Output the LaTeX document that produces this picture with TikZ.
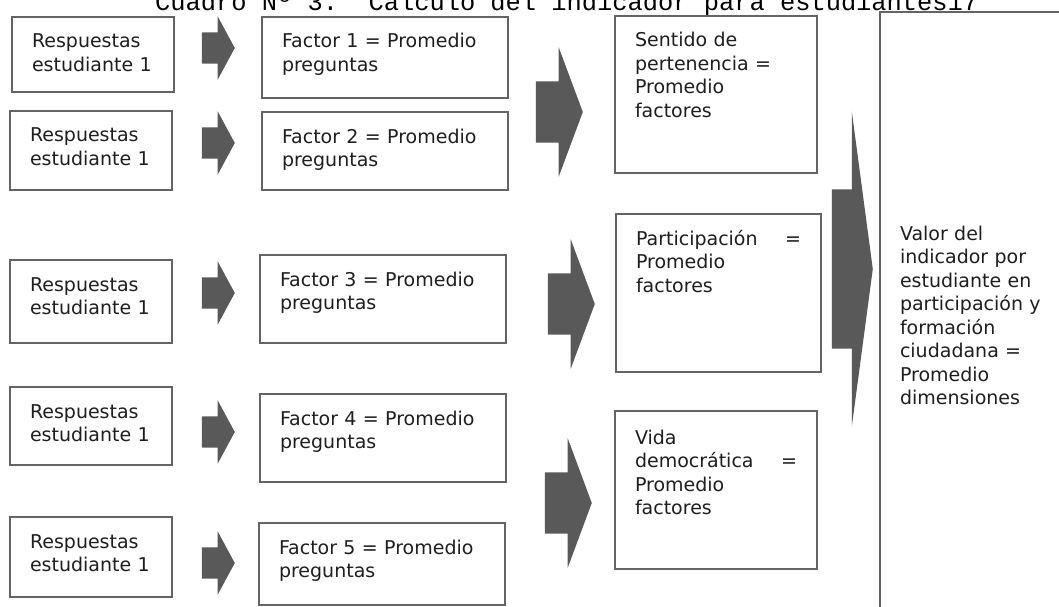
\documentclass[tikz,border=0pt]{standalone}
\usepackage{fontspec}
\setmainfont{DejaVu Sans}
\newfontfamily\titlefont{Liberation Mono}
\usepackage{xcolor}
\usepackage{tikz}
\usetikzlibrary{shapes,arrows,positioning}
\definecolor{boxline}{RGB}{100,100,100}
\definecolor{boxtext}{RGB}{30,30,30}
\definecolor{flecha}{RGB}{89,89,89}

\begin{document}
\begin{tikzpicture}[
    x=1pt, y=-1pt,
    box/.style={rectangle, draw=boxline, line width=1.6pt, text=boxtext, align=left, anchor=north west, inner xsep=20pt, inner ysep=0pt, outer sep=0pt, text height=31pt, font=\fontsize{19}{23.5}\selectfont},
    resp/.style={box, text width=122pt},
    factor/.style={box, text width=206pt},
    dimension/.style={box, text width=162pt},
    arrowbase/.style={single arrow, fill=flecha, draw=none, inner xsep=0pt, anchor=tip},
    smallarrow/.style={arrowbase, inner ysep=15.5pt, single arrow head extend=16pt, minimum width=63pt, minimum height=33pt, single arrow tip angle=123.3},
    midarrow/.style={arrowbase, inner ysep=30.5pt, single arrow head extend=34pt, minimum width=129pt, minimum height=47pt, single arrow tip angle=139.2},
    bigarrow/.style={arrowbase, inner ysep=79.5pt, single arrow head extend=78pt, minimum width=315pt, minimum height=41pt, single arrow tip angle=164.8},
    title/.style={anchor=base west, inner sep=0pt, text=black, font=\titlefont\fontsize{25.4}{26}\selectfont}
]
    \useasboundingbox (0,0) rectangle (1059,607);
    \clip (0,0) rectangle (1059,607);

    % Title
    \node [title] (titulo) at (155,11) {Cuadro Nº 3.\ \ Cálculo del indicador para estudiantes17};

    % Row 1
    \node [resp, text depth=44pt] (resp1) at (12,17) {Respuestas\\estudiante 1};
    \node [smallarrow] (f1) at (235,48) {};
    \node [factor, text depth=50pt] (fact1) at (262,17) {Factor 1 = Promedio\\preguntas};

    % Row 2
    \node [resp, text depth=48pt] (resp2) at (10,111) {Respuestas\\estudiante 1};
    \node [smallarrow] (f2) at (235,143) {};
    \node [factor, text depth=47pt] (fact2) at (262,112) {Factor 2 = Promedio\\preguntas};

    % Row 3
    \node [resp, text depth=52pt] (resp3) at (10,260) {Respuestas\\estudiante 1};
    \node [smallarrow] (f3) at (235,293) {};
    \node [factor, text depth=57pt] (fact3) at (260,255) {Factor 3 = Promedio\\preguntas};

    % Row 4
    \node [resp, text depth=47pt] (resp4) at (10,387) {Respuestas\\estudiante 1};
    \node [smallarrow] (f4) at (235,432) {};
    \node [factor, text depth=57pt] (fact4) at (260,394) {Factor 4 = Promedio\\preguntas};

    % Row 5
    \node [resp, text depth=49pt] (resp5) at (10,517) {Respuestas\\estudiante 1};
    \node [smallarrow] (f5) at (235,563) {};
    \node [factor, text depth=51pt] (fact5) at (259,523) {Factor 5 = Promedio\\preguntas};

    % Dimensions
    \node [midarrow] (d1) at (583,112) {};
    \node [dimension, text depth=126pt] (sentido) at (615,16) {Sentido de\\pertenencia =\\Promedio\\factores};
    \node [midarrow] (d2) at (595,304) {};
    \node [dimension, text width=165pt, text depth=127pt] (particip) at (616,214) {Participación\hfill=\\Promedio\\factores};
    \node [midarrow] (d3) at (592,503) {};
    \node [dimension, text height=33pt, text depth=125pt] (vida) at (615,411) {Vida\\democrática\hfill=\\Promedio\\factores};

    % Result
    \node [bigarrow] (total) at (873,269) {};
    \node [box, text width=170pt, text height=228pt, text depth=420pt] (valor) at (880,12) {Valor del\\indicador por\\estudiante en\\participación y\\formación\\ciudadana =\\Promedio\\dimensiones};
\end{tikzpicture}
\end{document}
